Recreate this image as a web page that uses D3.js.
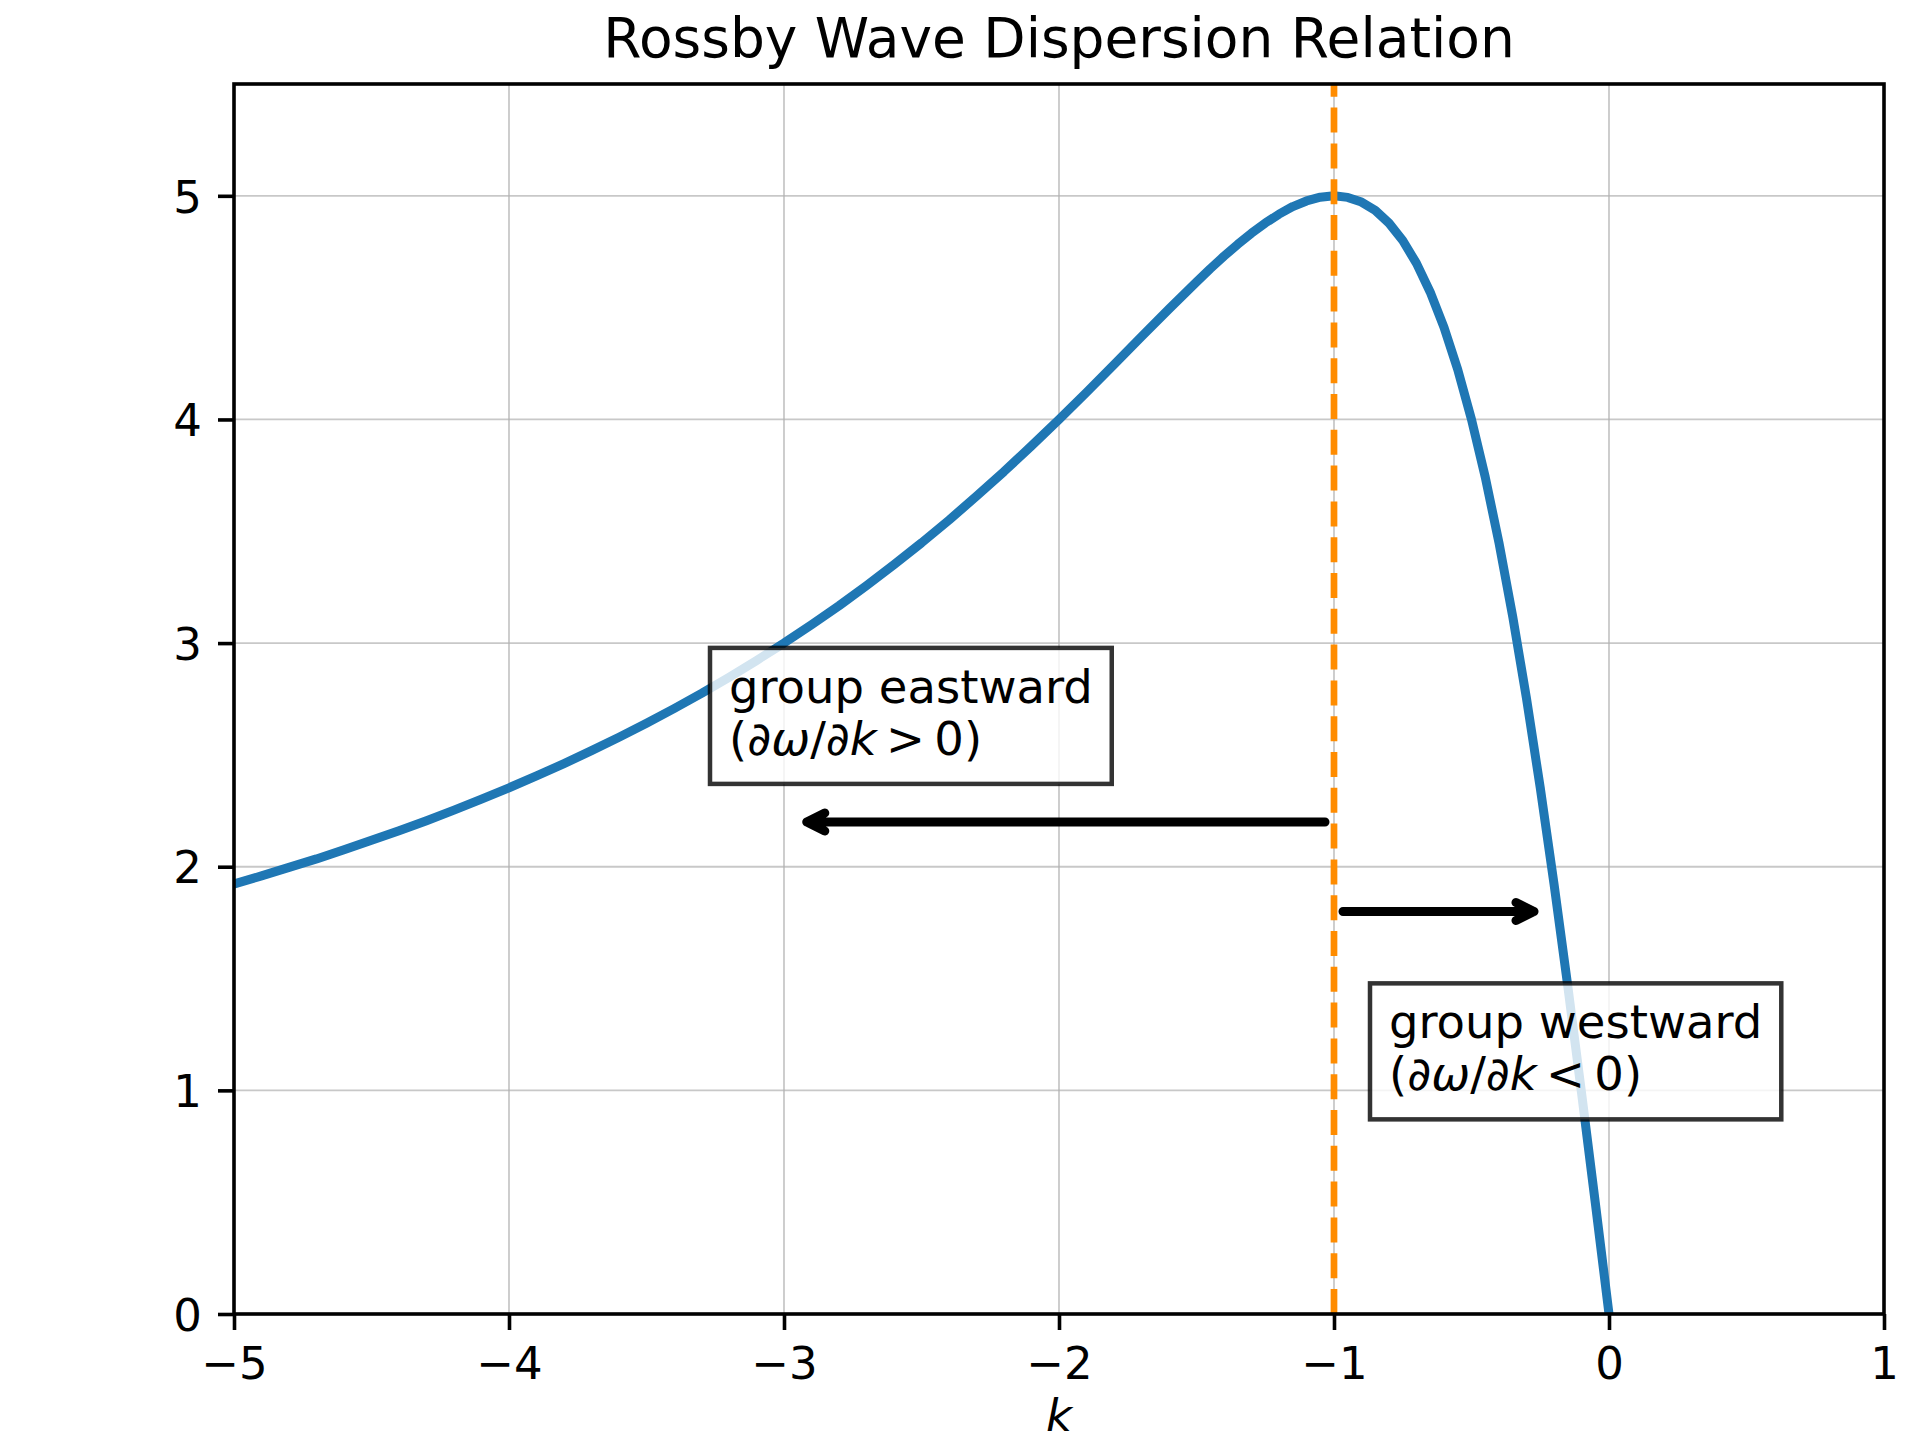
<!DOCTYPE html>
<html>
<head>
<meta charset="utf-8">
<script src="https://cdn.jsdelivr.net/npm/d3@7"></script>
<style>
  body { margin: 0; background: #fff; }
  text { font-family: 'DejaVu Sans', sans-serif; }
</style>
</head>
<body>
<div id="chart"></div>
<script>
// Data
const kValues = [-5.0, -4.9, -4.8, -4.7, -4.6, -4.5, -4.4, -4.3, -4.2, -4.1,
  -4.0, -3.9, -3.8, -3.7, -3.6, -3.5, -3.4, -3.3, -3.2, -3.1,
  -3.0, -2.9, -2.8, -2.7, -2.6, -2.5, -2.4, -2.3, -2.2, -2.1,
  -2.0, -1.9, -1.8, -1.7, -1.6, -1.5, -1.45, -1.4, -1.35, -1.3, -1.25, -1.2, -1.15, -1.1, -1.05,
  -1.0, -0.95, -0.9, -0.85, -0.8, -0.75, -0.7, -0.65, -0.6, -0.55, -0.5, -0.45,
  -0.4, -0.35, -0.3, -0.25, -0.2, -0.15, -0.1, -0.05, 0.0]
const omegaValues = [1.923, 1.959, 1.997, 2.035, 2.076, 2.118, 2.161, 2.206, 2.253, 2.302,
  2.353, 2.406, 2.461, 2.519, 2.579, 2.642, 2.707, 2.775, 2.847, 2.922,
  3.000, 3.082, 3.167, 3.257, 3.351, 3.448, 3.550, 3.657, 3.767, 3.882,
  4.000, 4.121, 4.245, 4.370, 4.494, 4.615, 4.674, 4.730, 4.783, 4.833, 4.878, 4.918, 4.952, 4.977, 4.994,
  5.000, 4.993, 4.972, 4.935, 4.878, 4.800, 4.698, 4.569, 4.412, 4.223, 4.000, 3.742,
  3.448, 3.118, 2.752, 2.353, 1.923, 1.467, 0.990, 0.499, 0.000]

const xTicks = [-5, -4, -3, -2, -1, 0, 1]
const yTicks = [0, 1, 2, 3, 4, 5]
const xDomain = [-5, 1]
const yDomain = [0, 5.5]
const peakK = -1

const arrowFrom = [[-1, 2.2], [-1, 1.8]]
const arrowTo = [[-2.95, 2.2], [-0.24, 1.8]]

const noteLines = [
  ['group eastward', '>'],
  ['group westward', '<'],
]
const notePos = [[-3.2, 2.5], [-0.8, 1.0]]

const title = 'Rossby Wave Dispersion Relation'
const xLabel = 'k'

// Dimensions
const dims = {
  width: 1931,
  height: 1441,
  left: 234,
  right: 1884,
  top: 84,
  bottom: 1314,
}

const svg = d3
  .select('#chart')
  .append('svg')
  .attr('width', dims.width)
  .attr('height', dims.height)

svg.append('rect').attr('width', dims.width).attr('height', dims.height).attr('fill', '#fff')

// Scales
const xScale = d3.scaleLinear().domain(xDomain).range([dims.left, dims.right])
const yScale = d3.scaleLinear().domain(yDomain).range([dims.bottom, dims.top])

svg.append('clipPath').attr('id', 'clip')
  .append('rect')
  .attr('x', dims.left).attr('y', dims.top)
  .attr('width', dims.right - dims.left).attr('height', dims.bottom - dims.top)

// Grid
const grid = svg.append('g')
grid.selectAll('.gx').data(xTicks).join('line')
  .attr('x1', (d) => xScale(d)).attr('x2', (d) => xScale(d))
  .attr('y1', dims.top).attr('y2', dims.bottom)
  .attr('stroke', '#b0b0b0').attr('stroke-opacity', 0.7).attr('stroke-width', 1.8)
grid.selectAll('.gy').data(yTicks).join('line')
  .attr('x1', dims.left).attr('x2', dims.right)
  .attr('y1', (d) => yScale(d)).attr('y2', (d) => yScale(d))
  .attr('stroke', '#b0b0b0').attr('stroke-opacity', 0.7).attr('stroke-width', 1.8)

const plot = svg.append('g').attr('clip-path', 'url(#clip)')

// Dispersion curve
const points = kValues.map((k, i) => [k, omegaValues[i]])
const line = d3.line()
  .x((d) => xScale(d[0]))
  .y((d) => yScale(d[1]))

plot.append('path')
  .datum(points)
  .attr('d', line)
  .attr('fill', 'none')
  .attr('stroke', '#1f77b4')
  .attr('stroke-width', 9)
  .attr('stroke-linejoin', 'round')
  .attr('stroke-linecap', 'square')

// Peak marker (dashed, drawn from bottom upward)
plot.append('line')
  .attr('x1', xScale(peakK)).attr('x2', xScale(peakK))
  .attr('y1', yScale(yDomain[0])).attr('y2', yScale(yDomain[1]))
  .attr('stroke', '#ff8c00')
  .attr('stroke-width', 6.7)
  .attr('stroke-dasharray', '25,10.8')

// Arrows
const shrink = 9
const headLen = 18
const headHalf = 9
arrowFrom.forEach((from, i) => {
  const to = arrowTo[i]
  const x1 = xScale(from[0])
  const x2 = xScale(to[0])
  const y = yScale(from[1])
  const dir = Math.sign(x2 - x1)
  const sx = x1 + dir * shrink
  const tx = x2 - dir * shrink
  svg.append('path')
    .attr('d', `M${sx},${y}L${tx},${y}M${tx - dir * headLen},${y - headHalf}L${tx},${y}L${tx - dir * headLen},${y + headHalf}`)
    .attr('fill', 'none')
    .attr('stroke', '#000')
    .attr('stroke-width', 9)
    .attr('stroke-linecap', 'round')
    .attr('stroke-linejoin', 'round')
})

// Annotation boxes
const fontSize = 46.5
const lineGap = 52
const padX = 19
noteLines.forEach((n, i) => {
  const g = svg.append('g')
  const x = xScale(notePos[i][0])
  const base2 = yScale(notePos[i][1])
  const base1 = base2 - lineGap
  const box = g.append('rect')
  const t1 = g.append('text')
    .attr('x', x).attr('y', base1)
    .attr('font-size', fontSize)
    .text(n[0])
  const t2 = g.append('text')
    .attr('x', x).attr('y', base2)
    .attr('font-size', fontSize)
  const parts = [
    ['(', false], ['∂ω', true], ['/', false], ['∂k', true], [`\u2009${n[1]}\u2009`, false], ['0)', false],
  ]
  parts.forEach((p) => {
    t2.append('tspan')
      .attr('font-style', p[1] ? 'italic' : 'normal')
      .text(p[0])
  })
  const b1 = t1.node().getBBox()
  const w = b1.width
  const top = base1 - 55
  const bottom = base2 + 29
  box.attr('x', x - padX).attr('y', top)
    .attr('width', w + padX * 2)
    .attr('height', bottom - top)
    .attr('fill', '#fff').attr('fill-opacity', 0.8)
    .attr('stroke', '#000').attr('stroke-opacity', 0.8)
    .attr('stroke-width', 4.5)
})

// Spines
svg.append('rect')
  .attr('x', dims.left).attr('y', dims.top)
  .attr('width', dims.right - dims.left).attr('height', dims.bottom - dims.top)
  .attr('fill', 'none').attr('stroke', '#000').attr('stroke-width', 3.6)

// Axes
const tickFmt = d3.format('d')
const xAxis = d3.axisBottom(xScale).tickValues(xTicks).tickFormat(tickFmt).tickSize(16).tickPadding(16)
const gx = svg.append('g').attr('transform', `translate(0,${dims.bottom})`).call(xAxis)
const yAxis = d3.axisLeft(yScale).tickValues(yTicks).tickFormat(tickFmt).tickSize(16).tickPadding(16)
const gy = svg.append('g').attr('transform', `translate(${dims.left},0)`).call(yAxis)

;[gx, gy].forEach((g) => {
  g.select('.domain').remove()
  g.selectAll('.tick line').attr('stroke', '#000').attr('stroke-width', 3.6)
  g.selectAll('.tick text')
    .attr('fill', '#000')
    .attr('font-size', 45)
    .attr('font-family', "'DejaVu Sans', sans-serif")
})
gx.selectAll('.tick text').attr('dy', null).attr('y', 65)
gy.selectAll('.tick text').attr('dy', '0.36em')

// Title and label
svg.append('text')
  .attr('x', (dims.left + dims.right) / 2)
  .attr('y', 57)
  .attr('text-anchor', 'middle')
  .attr('font-size', 55)
  .text(title)

svg.append('text')
  .attr('x', (dims.left + dims.right) / 2)
  .attr('y', 1431)
  .attr('text-anchor', 'middle')
  .attr('font-size', 45)
  .attr('font-style', 'italic')
  .text(xLabel)
</script>
</body>
</html>
